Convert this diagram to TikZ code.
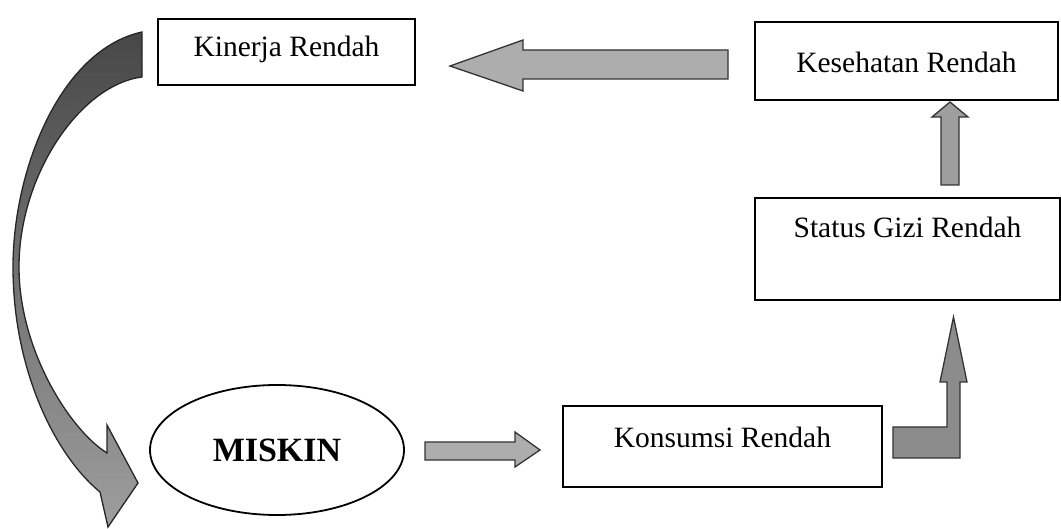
\documentclass[tikz,border=0pt]{standalone}
\usepackage{fontspec}
\setmainfont{Liberation Serif}
\usetikzlibrary{shapes.geometric}
\begin{document}
\begin{tikzpicture}[x=1pt,y=-1pt,
  box/.style={draw=black, line width=1.8pt, rectangle, inner sep=0pt, fill=white,
    font=\fontsize{29.5}{31}\selectfont},
  blockarrow/.style={draw=black!80, line width=1.3pt, fill=black!38, line join=miter},
]
\useasboundingbox (0,0) rectangle (1061,529);
% nodes
\node[box, minimum width=257pt, text height=38pt, text depth=28pt] (kin) at (286.5,52) {Kinerja Rendah};
\node[box, minimum width=303pt, text height=51pt, text depth=27pt] (kes) at (906.5,61) {Kesehatan Rendah};
\node[box, minimum width=305pt, text height=40pt, text depth=62pt] (gizi) at (907.5,249) {Status Gizi Rendah};
\node[box, minimum width=319pt, text height=41pt, text depth=40pt] (kon) at (722.5,446.5) {Konsumsi Rendah};
\node[draw=black, line width=1.8pt, ellipse, minimum width=254pt, minimum height=130pt, inner sep=0pt,
  font=\fontsize{34}{36}\selectfont\bfseries] (mis) at (277,450) {MISKIN};
% Kesehatan -> Kinerja
\draw[blockarrow, fill=black!32] (728,50) -- (523,50) -- (523,40) -- (450,66) -- (523,91) -- (523,79) -- (728,79) -- cycle;
% Status Gizi -> Kesehatan
\draw[blockarrow] (941,185) -- (941,117) -- (932,117) -- (950,102) -- (968,117) -- (959,117) -- (959,185) -- cycle;
% Konsumsi -> Status Gizi (bent)
\draw[blockarrow, fill=black!45] (893,427) -- (947,427) -- (947,382) -- (940,382) -- (953.5,317) -- (967,382) -- (960,382) -- (960,458) -- (893,458) -- cycle;
% Miskin -> Konsumsi
\draw[blockarrow, fill=black!32] (425,442) -- (515,442) -- (515,432) -- (540,450) -- (515,467) -- (515,460) -- (425,460) -- cycle;
% Kinerja -> Miskin (curved)
\draw[line width=1.3pt, draw=black!85, top color=black!72, bottom color=black!38, line join=miter]
  (142,32) .. controls (60,50) and (13,170) .. (13,267)
  .. controls (13,370) and (55,455) .. (100,492)
  -- (108,527) -- (138,483) -- (107,425) -- (107,453)
  .. controls (70,430) and (19,350) .. (19,267)
  .. controls (19,175) and (80,85) .. (142,77) -- cycle;
\end{tikzpicture}
\end{document}
